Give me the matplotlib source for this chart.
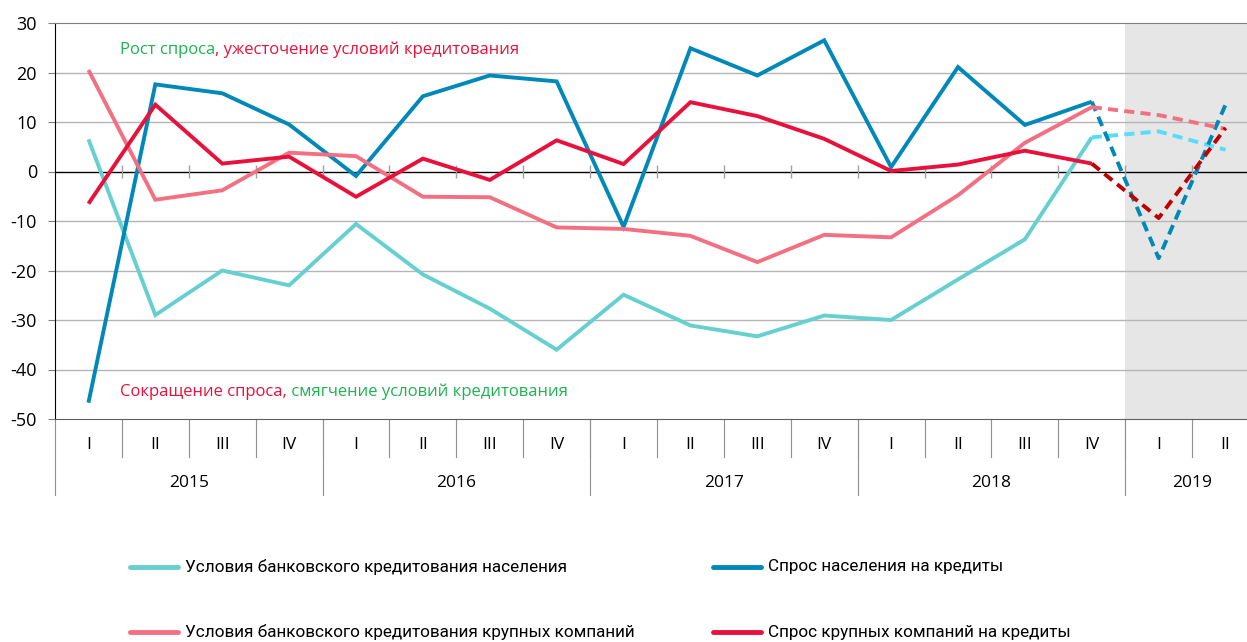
import matplotlib
matplotlib.use('Agg')
import matplotlib.pyplot as plt
import matplotlib.transforms as mtransforms
from matplotlib.lines import Line2D
import numpy as np

plt.rcParams['font.family'] = ['Open Sans', 'DejaVu Sans']
plt.rcParams['axes.unicode_minus'] = False

# quarters 2015 I .. 2019 II
quarters = ['I', 'II', 'III', 'IV'] * 4 + ['I', 'II']
years = ['2015', '2016', '2017', '2018', '2019']

# values (last two points are the forecast, dashed)
cond_house = [6.5, -29, -20, -23, -10.6, -20.8, -27.7, -36, -24.9, -31.1, -33.3, -29.1,
              -30, -21.8, -13.7, 6.9, 8.1, 4.4]
demand_house = [-46.7, 17.6, 15.8, 9.5, -0.9, 15.2, 19.4, 18.2, -11.2, 24.9, 19.4, 26.5,
                0.9, 21.1, 9.4, 14.1, -17.5, 13.5]
cond_corp = [20.5, -5.7, -3.8, 3.8, 3.1, -5.1, -5.2, -11.3, -11.6, -13.0, -18.3, -12.8,
             -13.3, -4.8, 5.8, 13.0, 11.4, 8.6]
demand_corp = [-6.5, 13.5, 1.6, 3.0, -5.1, 2.6, -1.7, 6.3, 1.5, 14.0, 11.2, 6.6,
               0.1, 1.4, 4.2, 1.6, -9.4, 8.8]

labels = ['Условия банковского кредитования населения',
          'Спрос населения на кредиты',
          'Условия банковского кредитования крупных компаний',
          'Спрос крупных компаний на кредиты']
series = [cond_house, demand_house, cond_corp, demand_corp]
colors = ['#66CFCF', '#0088B9', '#F37083', '#E8113B']
fc_colors = ['#55DDFF', '#0088B9', '#F37083', '#C00000']

n_fact = 16
x = np.arange(len(quarters)) + 0.5

fig = plt.figure(figsize=(12.47, 6.42), dpi=100)
ax = fig.add_axes([55 / 1247, 1 - 419 / 642, 1204 / 1247, 396 / 642])

ax.set_xlim(0, len(quarters))
ax.set_ylim(-50, 30)

# forecast area
ax.axvspan(n_fact, len(quarters), color='#E6E6E6', zorder=0, lw=0)

for yv in range(-40, 30, 10):
    if yv != 0:
        ax.axhline(yv, color='#B5B5B5', lw=1, zorder=1)
ax.axhline(0, color='black', lw=1, zorder=2)
ax.vlines(np.arange(1, len(quarters)), -1.4, 1.4, color='#A0A0A0', lw=1, zorder=2)

for vals, c, fc in zip(series, colors, fc_colors):
    ax.plot(x[:n_fact], vals[:n_fact], color=c, lw=2.8, zorder=3,
            solid_joinstyle='miter', solid_capstyle='butt')
    ax.plot(x[n_fact - 1:], vals[n_fact - 1:], color=fc, lw=2.8, zorder=3,
            dashes=(2.6, 1.6))

ax.set_xticks([])
ax.set_yticks(range(-50, 31, 10))
ax.tick_params(axis='y', length=5, color='#808080', pad=8, labelsize=13)
ax.spines['right'].set_visible(False)
ax.spines['top'].set_color('#808080')
ax.spines['bottom'].set_color('#606060')
ax.spines['left'].set_color('black')

# two level category axis
tr = mtransforms.blended_transform_factory(ax.transData, ax.transAxes)
for i, q in enumerate(quarters):
    ax.text(i + 0.5, -0.066, q, transform=tr, ha='center', va='center', fontsize=12.5)
for i in range(1, len(quarters)):
    ax.plot([i, i], [0, -0.096], transform=tr, color='#909090', lw=0.8, clip_on=False)
for k, yr in enumerate(years):
    left = 4 * k
    right = min(4 * k + 4, len(quarters))
    ax.text((left + right) / 2, -0.162, yr, transform=tr, ha='center', va='center',
            fontsize=12.5)
    ax.plot([left, left], [0, -0.192], transform=tr, color='#909090', lw=0.8,
            clip_on=False)

# annotations
green = '#1DB350'
red = '#E8113B'
t1 = ax.text(120 / 1247, 1 - 50 / 642, 'Рост спроса', transform=fig.transFigure,
             color=green, fontsize=12, va='center')
ax.annotate(', ужесточение условий кредитования', xy=(1, 0), xycoords=t1,
            va='bottom', color=red, fontsize=12)
t2 = ax.text(120 / 1247, 1 - 392 / 642, 'Сокращение спроса,', transform=fig.transFigure,
             color=red, fontsize=12, va='center')
ax.annotate(' смягчение условий кредитования', xy=(1, 0), xycoords=t2,
            va='bottom', color=green, fontsize=12)

# legend
leg_pos = [(130, 567), (713, 567), (130, 632), (713, 632)]
for (px, py), lab, c in zip(leg_pos, labels, colors):
    fy = 1 - py / 642
    fig.add_artist(Line2D([px / 1247, (px + 48) / 1247], [fy, fy], color=c, lw=3.5,
                          transform=fig.transFigure, solid_capstyle='round'))
    fig.text((px + 55) / 1247, fy, lab, fontsize=12.3, va='center', family='Roboto')

fig.savefig('out.png', dpi=100)
